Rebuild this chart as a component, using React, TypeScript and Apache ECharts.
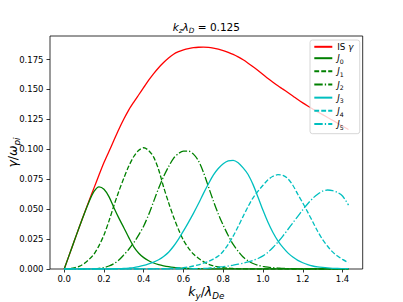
import React, { useEffect, useRef } from 'react';
import * as echarts from 'echarts';

// k_y / lambda_De sample points
const xs = [
  0, 0.025, 0.05, 0.075, 0.1, 0.125, 0.15, 0.175, 0.2, 0.225,
  0.25, 0.275, 0.3, 0.325, 0.35, 0.375, 0.4, 0.425, 0.45, 0.475,
  0.5, 0.525, 0.55, 0.575, 0.6, 0.625, 0.65, 0.675, 0.7, 0.725,
  0.75, 0.775, 0.8, 0.825, 0.85, 0.875, 0.9, 0.925, 0.95, 0.975,
  1.0, 1.025, 1.05, 1.075, 1.1, 1.125, 1.15, 1.175, 1.2, 1.225,
  1.25, 1.275, 1.3, 1.325, 1.35, 1.375, 1.4, 1.43,
];

const isGamma = [
  0, 0.0116, 0.0232, 0.0347, 0.046, 0.057, 0.0678, 0.0785, 0.0889, 0.0982,
  0.1075, 0.1168, 0.1253, 0.133, 0.1395, 0.1456, 0.1517, 0.1578, 0.1633, 0.1682,
  0.1725, 0.1763, 0.1795, 0.1816, 0.1831, 0.1842, 0.1849, 0.1853, 0.1854, 0.1852,
  0.1846, 0.1837, 0.1825, 0.181, 0.1793, 0.1772, 0.1748, 0.172, 0.169, 0.1658,
  0.1625, 0.1592, 0.1561, 0.1531, 0.1503, 0.1475, 0.1446, 0.1416, 0.1388, 0.1362,
  0.1337, 0.1313, 0.129, 0.1266, 0.1243, 0.1218, 0.1193, 0.1166,
];

const j0 = [
  0, 0.0116, 0.0232, 0.0347, 0.0458, 0.0562, 0.0648, 0.0687, 0.0667, 0.0605,
  0.0512, 0.0425, 0.0345, 0.0262, 0.0185, 0.0132, 0.0095, 0.0069, 0.005, 0.0037,
  0.0027, 0.0019, 0.0013, 0.0009, 0.0006, 0.0004, 0.0003, 0.0002, 0.0001, 0,
  0, 0, 0, 0, 0, 0, 0, 0, 0, 0,
  0, 0, 0, 0, 0, 0, 0, 0, 0, 0,
  0, 0, 0, 0, 0, 0, 0, 0,
];

const j1 = [
  0, 0.0003, 0.001, 0.0022, 0.0045, 0.008, 0.0125, 0.0195, 0.0285, 0.04,
  0.053, 0.065, 0.076, 0.086, 0.094, 0.0992, 0.1013, 0.099, 0.0935, 0.083,
  0.0685, 0.0555, 0.0435, 0.033, 0.024, 0.0175, 0.0125, 0.009, 0.0062, 0.004,
  0.0026, 0.0017, 0.0011, 0.0007, 0.0004, 0.0002, 0.0001, 0, 0, 0,
  0, 0, 0, 0, 0, 0, 0, 0, 0, 0,
  0, 0, 0, 0, 0, 0, 0, 0,
];

const j2 = [
  0, 0, 0, 0, 0, 0.0001, 0.0003, 0.0006, 0.0012, 0.0025,
  0.0045, 0.0075, 0.0118, 0.0165, 0.022, 0.0285, 0.036, 0.0455, 0.0565, 0.0675,
  0.0772, 0.0855, 0.0925, 0.0965, 0.0985, 0.0985, 0.096, 0.0905, 0.081, 0.069,
  0.057, 0.046, 0.0365, 0.028, 0.0205, 0.0148, 0.01, 0.0068, 0.0046, 0.0032,
  0.0022, 0.0015, 0.0011, 0.0008, 0.0005, 0.0003, 0.0002, 0.0001, 0, 0,
  0, 0, 0, 0, 0, 0, 0, 0,
];

const j3 = [
  0, 0, 0, 0, 0, 0, 0, 0, 0, 0.0001,
  0.0002, 0.0003, 0.0005, 0.0008, 0.0012, 0.002, 0.003, 0.0043, 0.0058, 0.0077,
  0.0105, 0.014, 0.019, 0.025, 0.0318, 0.039, 0.0465, 0.0545, 0.063, 0.071,
  0.0785, 0.084, 0.088, 0.0903, 0.0908, 0.0888, 0.0845, 0.079, 0.0705, 0.06,
  0.049, 0.039, 0.0305, 0.0235, 0.018, 0.0135, 0.01, 0.0072, 0.0052, 0.0036,
  0.0025, 0.0018, 0.0013, 0.0009, 0.0006, 0.0004, 0.0003, 0.0002,
];

const j4 = [
  0, 0, 0, 0, 0, 0, 0, 0, 0, 0,
  0, 0, 0, 0, 0, 0, 0.0001, 0.0001, 0.0002, 0.0002,
  0.0003, 0.0004, 0.0006, 0.0009, 0.0012, 0.0017, 0.0025, 0.0035, 0.0048, 0.0063,
  0.0083, 0.0108, 0.0148, 0.0205, 0.0275, 0.0355, 0.044, 0.0522, 0.0595, 0.065,
  0.07, 0.0745, 0.0775, 0.0788, 0.0782, 0.0755, 0.07, 0.0625, 0.0552, 0.0475,
  0.0395, 0.0315, 0.0245, 0.019, 0.0143, 0.0108, 0.008, 0.0053,
];

const j5 = [
  0, 0, 0, 0, 0, 0, 0, 0, 0, 0,
  0, 0, 0, 0, 0, 0, 0, 0, 0, 0,
  0, 0, 0, 0, 0.0001, 0.0001, 0.0002, 0.0003, 0.0005, 0.0007,
  0.001, 0.0014, 0.0019, 0.0025, 0.0032, 0.004, 0.0049, 0.006, 0.0072, 0.0088,
  0.011, 0.014, 0.018, 0.0225, 0.0275, 0.033, 0.0385, 0.044, 0.0495, 0.0545,
  0.059, 0.0625, 0.065, 0.066, 0.0655, 0.064, 0.061, 0.0534,
];

const xTicks = [0, 0.2, 0.4, 0.6, 0.8, 1.0, 1.2, 1.4];
const yTicks = [0, 0.025, 0.05, 0.075, 0.1, 0.125, 0.15, 0.175];
const seriesNames = ['IS γ', 'J0', 'J1', 'J2', 'J3', 'J4', 'J5'];

const FONT = 'DejaVu Sans';
const RED = '#ff0000';
const GREEN = '#008000';
const CYAN = '#00bfbf';
const DASH = [4.85, 2.1];
const DASHDOT = [8.4, 2.1, 1.3, 2.1];

export default function App() {
  const ref = useRef<HTMLDivElement>(null);

  useEffect(() => {
    document.body.style.margin = '0';
    const chart = echarts.init(ref.current!, null, { renderer: 'svg', width: 403, height: 302 });

    const mk = (name: string, vals: number[], color: string, type: any) => ({
      name,
      type: 'line',
      data: xs.map((x, i) => [x, vals[i]]),
      showSymbol: false,
      symbol: 'none',
      smooth: 0.3,
      lineStyle: { color, width: 1.3, type },
      itemStyle: { color },
      emphasis: { disabled: true },
    });

    const textRich = (reg: number, sub: number, lh: number, pad: number) => ({
      i: { fontSize: reg, fontStyle: 'italic', fontFamily: FONT, lineHeight: lh, fill: '#000' },
      n: { fontSize: reg, fontFamily: FONT, lineHeight: lh, fill: '#000' },
      s: { fontSize: sub, fontFamily: FONT, lineHeight: sub, padding: [pad, 0, 0, 0], fill: '#000' },
      si: { fontSize: sub, fontStyle: 'italic', fontFamily: FONT, lineHeight: sub, padding: [pad, 0, 0, 0], fill: '#000' },
    });

    chart.setOption({
      animation: false,
      backgroundColor: '#ffffff',
      grid: {
        left: 50,
        top: 36,
        right: 40.3,
        bottom: 33,
        show: true,
        borderColor: '#000',
        borderWidth: 0.8,
        containLabel: false,
        outerBoundsMode: 'none',
      },
      xAxis: {
        type: 'value',
        min: -0.0715,
        max: 1.5015,
        splitLine: { show: false },
        axisLine: { show: false, onZero: false },
        axisTick: { show: true, length: 3.5, lineStyle: { color: '#000', width: 0.8 }, customValues: xTicks },
        axisLabel: {
          customValues: xTicks,
          formatter: (v: number) => v.toFixed(1),
          color: '#000',
          fontSize: 8.5,
          fontFamily: FONT,
          margin: 5,
        },
      },
      yAxis: {
        type: 'value',
        min: 0,
        max: 0.1947,
        splitLine: { show: false },
        axisLine: { show: false, onZero: false },
        axisTick: { show: true, length: 3.5, lineStyle: { color: '#000', width: 0.8 }, customValues: yTicks },
        axisLabel: {
          customValues: yTicks,
          formatter: (v: number) => v.toFixed(3),
          color: '#000',
          fontSize: 8.5,
          fontFamily: FONT,
          margin: 6.5,
        },
      },
      legend: {
        orient: 'vertical',
        left: 310,
        top: 40,
        itemWidth: 18,
        itemHeight: 2,
        itemGap: 0.65,
        padding: [2.3, 6.5, 3.5, 3.3],
        backgroundColor: 'rgba(255,255,255,0.8)',
        borderColor: '#cccccc',
        borderWidth: 0.8,
        borderRadius: 2.5,
        selectedMode: false,
        itemStyle: { opacity: 0 },
        data: seriesNames,
        formatter: (name: string) =>
          name.startsWith('J') ? `{i|J}{s|${name.slice(1)}}` : `{n|IS }{i|γ}`,
        textStyle: {
          fontSize: 8.5,
          fontFamily: FONT,
          color: '#000',
          rich: {
            i: { fontSize: 8.7, fontStyle: 'italic', fontFamily: FONT, color: '#000', lineHeight: 13 },
            n: { fontSize: 8.7, fontFamily: FONT, color: '#000', lineHeight: 13 },
            s: { fontSize: 6.2, fontFamily: FONT, color: '#000', lineHeight: 6.2, padding: [6.5, 0, 0, 0] },
          },
        },
      },
      graphic: [
        {
          type: 'text',
          x: 206.3,
          y: 27,
          style: {
            text: '{i|k}{si|z}{i|λ}{si|D}{n| = 0.125}',
            rich: textRich(10.5, 7.3, 14, 7),
            align: 'center',
            verticalAlign: 'middle',
            textAlign: 'center',
            textVerticalAlign: 'middle',
            fill: '#000',
          },
        },
        {
          type: 'text',
          x: 206.3,
          y: 291,
          style: {
            text: '{i|k}{si|y}{n|/}{i|λ}{si|De}',
            rich: textRich(12.5, 8.75, 16, 9),
            align: 'center',
            verticalAlign: 'middle',
            textAlign: 'center',
            textVerticalAlign: 'middle',
            fill: '#000',
          },
        },
        {
          type: 'text',
          x: 12,
          y: 152.5,
          rotation: Math.PI / 2,
          style: {
            text: '{i|γ}{n|/}{i|ω}{si|pi}',
            rich: textRich(12.5, 8.75, 16, 9),
            align: 'center',
            verticalAlign: 'middle',
            textAlign: 'center',
            textVerticalAlign: 'middle',
            fill: '#000',
          },
        },
      ],
      series: [
        mk('IS γ', isGamma, RED, 'solid'),
        mk('J0', j0, GREEN, 'solid'),
        mk('J1', j1, GREEN, DASH),
        mk('J2', j2, GREEN, DASHDOT),
        mk('J3', j3, CYAN, 'solid'),
        mk('J4', j4, CYAN, DASH),
        mk('J5', j5, CYAN, DASHDOT),
      ],
    });

    return () => chart.dispose();
  }, []);

  return <div ref={ref} style={{ position: 'absolute', left: 0, top: 0, width: 403, height: 302 }} />;
}
